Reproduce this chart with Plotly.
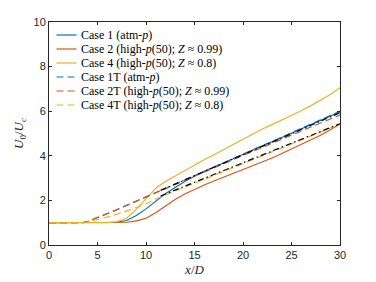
import plotly.graph_objects as go

# ---------------- data ----------------
x_solid = list(range(0, 31))
case1 = [1.0, 1.0, 1.0, 1.0, 1.0, 1.0, 1.0, 1.02, 1.1, 1.32, 1.62, 1.98, 2.3, 2.58, 2.85, 3.08,
         3.3, 3.5, 3.68, 3.88, 4.07, 4.25, 4.45, 4.63, 4.82, 5.0, 5.18, 5.38, 5.57, 5.78, 5.97]
case2 = [1.0, 1.0, 1.0, 1.0, 1.0, 1.0, 1.0, 1.0, 1.02, 1.08, 1.2, 1.45, 1.75, 2.04, 2.29, 2.5,
         2.69, 2.87, 3.04, 3.2, 3.37, 3.53, 3.72, 3.9, 4.1, 4.3, 4.5, 4.7, 4.92, 5.17, 5.42]
case4 = [1.0, 1.0, 1.0, 1.0, 1.0, 1.0, 1.0, 1.05, 1.2, 1.6, 2.1, 2.55, 2.85, 3.1, 3.35, 3.6,
         3.82, 4.05, 4.28, 4.5, 4.75, 4.98, 5.2, 5.4, 5.6, 5.8, 6.02, 6.25, 6.5, 6.75, 7.05]

x_t = [0, 1, 2, 3, 3.5, 4, 5, 6, 7, 8, 9, 10, 11, 12, 15, 18, 21, 24, 27, 30]
case1t = [1.0, 1.0, 1.0, 1.0, 1.0, 1.06, 1.22, 1.4, 1.58, 1.77, 1.95, 2.15, 2.34, 2.52,
          3.1, 3.68, 4.26, 4.84, 5.42, 6.0]
case2t = [1.0, 1.0, 1.0, 1.0, 1.0, 1.06, 1.23, 1.41, 1.59, 1.78, 1.96, 2.16, 2.35, 2.53,
          3.09, 3.65, 4.2, 4.75, 5.29, 5.83]
case4t = [1.0, 1.0, 1.0, 1.0, 1.0, 1.04, 1.13, 1.25, 1.38, 1.52, 1.68, 1.85, 2.05, 2.25,
          2.77, 3.29, 3.82, 4.34, 4.88, 5.42]

x_fit = [11.5, 30]
fit_upper = [2.45, 5.93]
fit_lower = [2.2, 5.44]

labels = ["Case 1 (atm-<i>p</i>)",
          "Case 2 (high-<i>p</i>(50); <i>Z</i> ≈ 0.99)",
          "Case 4 (high-<i>p</i>(50); <i>Z</i> ≈ 0.8)",
          "Case 1T (atm-<i>p</i>)",
          "Case 2T (high-<i>p</i>(50); <i>Z</i> ≈ 0.99)",
          "Case 4T (high-<i>p</i>(50); <i>Z</i> ≈ 0.8)"]

x_ticks = [0, 5, 10, 15, 20, 25, 30]
y_ticks = [0, 2, 4, 6, 8, 10]

# ---------------- styles ----------------
BLUE, ORANGE, YELLOW = "#0072BD", "#D95319", "#EDB120"
DASH = "7px,4px"
DASHDOT = "6px,3px,1.5px,3px"
LW = 1.2
SERIF = "Liberation Serif, DejaVu Serif, serif"
SANS = "Liberation Sans, Arial, sans-serif"
AX = "#262626"

# page body has an 8px margin: compensate so the plot lands where the reference's does
OFF = 8
W, H = 376 - OFF, 282 - OFF
L, R, T, B = 49 - OFF, 36, 22 - OFF, 37
pw, ph = W - L - R, H - T - B

fig = go.Figure()
series = [
    (x_solid, case1, BLUE, "solid"),
    (x_solid, case2, ORANGE, "solid"),
    (x_solid, case4, YELLOW, "solid"),
    (x_t, case1t, BLUE, DASH),
    (x_t, case2t, ORANGE, DASH),
    (x_t, case4t, YELLOW, DASH),
]
for (xx, yy, c, d), name in zip(series, labels):
    fig.add_trace(go.Scatter(x=xx, y=yy, mode="lines", name=name,
                             line=dict(color=c, width=LW, dash=d), showlegend=False))
for yy in (fit_upper, fit_lower):
    fig.add_trace(go.Scatter(x=x_fit, y=yy, mode="lines", showlegend=False,
                             line=dict(color="black", width=LW, dash=DASHDOT)))

# ---------------- manual compact legend (MATLAB style) ----------------
# pixel positions below are page pixels of the reference
def px2paper_x(px):
    return (px - OFF - L) / pw

def px2paper_y(py):
    return (H - B - (py - OFF)) / ph

shapes, annots = [], []
row0, dy = 35, 14
for i, ((_, _, c, d), name) in enumerate(zip(series, labels)):
    yc = px2paper_y(row0 + i * dy)
    shapes.append(dict(type="line", xref="paper", yref="paper",
                       x0=px2paper_x(56.5), x1=px2paper_x(76.5), y0=yc, y1=yc,
                       line=dict(color=c, width=LW, dash=d)))
    annots.append(dict(xref="paper", yref="paper", x=px2paper_x(79), y=yc,
                       text=name, showarrow=False, xanchor="left", yanchor="middle",
                       font=dict(family=SERIF, size=12, color="black")))

axis_common = dict(showline=True, linecolor=AX, linewidth=1, mirror="ticks",
                   ticks="inside", ticklen=3, tickcolor=AX, showgrid=False,
                   zeroline=False, automargin=False,
                   tickfont=dict(family=SANS, size=11, color=AX))

fig.update_layout(
    template="none",
    width=W, height=H,
    margin=dict(l=L, r=R, t=T, b=B, autoexpand=False),
    paper_bgcolor="white", plot_bgcolor="white",
    shapes=shapes, annotations=annots,
    xaxis=dict(range=[0, 30], tickvals=x_ticks, **axis_common,
               title=dict(text="<i>x</i>/<i>D</i>", standoff=4,
                          font=dict(family=SERIF, size=13, color=AX))),
    yaxis=dict(range=[0, 10], tickvals=y_ticks, **axis_common,
               title=dict(text="<i>U</i><sub>0</sub>/<i>U<sub>c</sub></i>", standoff=6,
                          font=dict(family=SERIF, size=13, color=AX))),
)

fig.write_html("out.html")
